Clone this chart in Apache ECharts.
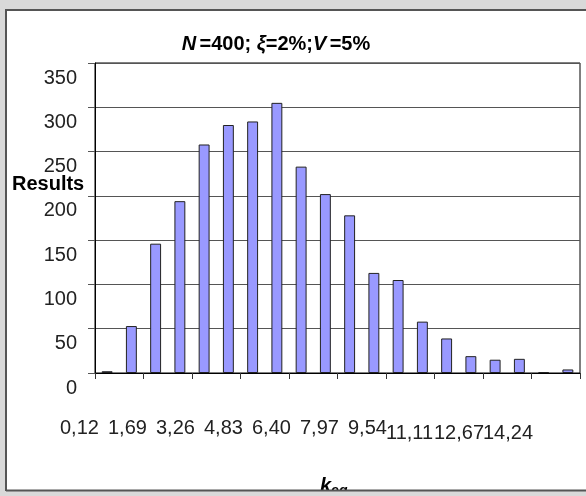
<!DOCTYPE html>
<html>
<head>
<meta charset="utf-8">
<script src="https://cdn.jsdelivr.net/npm/echarts@6/dist/echarts.min.js"></script>
<style>
html,body{margin:0;padding:0;background:#d9d9d9;}
#chart{width:586px;height:496px;}
</style>
</head>
<body>
<div id="chart"></div>
<script>
// ---- data ----
var categories = ['0,12','0,90','1,69','2,47','3,26','4,04','4,83','5,61','6,40','7,18',
                  '7,97','8,75','9,54','10,32','11,11','11,89','12,67','13,46','14,24','15,02'];
var results = [2, 53, 146, 194, 258, 280, 284, 305, 233, 202, 178, 113, 105, 58, 39, 19, 15, 16, 1, 4];
var yTicks = [0, 50, 100, 150, 200, 250, 300, 350];
var xTickLabels = ['0,12','1,69','3,26','4,83','6,40','7,97','9,54','11,11','12,67','14,24'];
// layout of the (misplaced) category labels as drawn in the reference
var xLabelLeft = [60, 108, 156, 204, 252, 300, 348, 386, 434, 483];
var xLabelMid  = [428, 428, 428, 428, 428, 428, 428, 433, 433, 433];

var chart = echarts.init(document.getElementById('chart'), null, {renderer: 'canvas'});
var FONT = '"Liberation Sans", Arial, sans-serif';

var graphics = [
  {type: 'rect', z: -10, shape: {x: 6, y: 10, width: 620, height: 481},
   style: {fill: '#ffffff', stroke: '#555555', lineWidth: 2}},
  {type: 'text', x: 276, y: 44, z: 10,
   style: {text: '{i|N} {b|=400; }{i|\u03BE}{b|=2%;}{i|V} {b|=5%}',
           textAlign: 'center', textVerticalAlign: 'middle',
           rich: {
             i: {fontFamily: FONT, fontSize: 20, fontWeight: 'bold', fontStyle: 'italic', fill: '#000'},
             b: {fontFamily: FONT, fontSize: 20, fontWeight: 'bold', fill: '#000'}
           }}},
  {type: 'text', x: 12, y: 184, z: 10,
   style: {text: 'Results', fontFamily: FONT, fontSize: 20, fontWeight: 'bold', fill: '#000',
           textAlign: 'left', textVerticalAlign: 'middle'}},
  {type: 'text', x: 320, y: 486, z: 10,
   style: {text: '{k|k}{s|eq}', textAlign: 'left', textVerticalAlign: 'middle',
           rich: {
             k: {fontFamily: FONT, fontSize: 20, fontWeight: 'bold', fontStyle: 'italic', fill: '#000'},
             s: {fontFamily: FONT, fontSize: 14, fontWeight: 'bold', fontStyle: 'italic', fill: '#000', padding: [10, 0, 0, 0]}
           }}},
  {type: 'rect', z: 50, shape: {x: 0, y: 491, width: 600, height: 10},
   style: {fill: '#d9d9d9'}},
  {type: 'line', z: 51, shape: {x1: 6, y1: 490.5, x2: 600, y2: 490.5},
   style: {stroke: '#555555', lineWidth: 2}}
];
xTickLabels.forEach(function (t, i) {
  graphics.push({type: 'text', x: xLabelLeft[i], y: xLabelMid[i], z: 10,
    style: {text: t, fontFamily: FONT, fontSize: 20, fill: '#222',
            textAlign: 'left', textVerticalAlign: 'middle'}});
});

chart.setOption({
  animation: false,
  backgroundColor: 'transparent',
  grid: {left: 95, top: 63, right: 6, bottom: 123, show: true,
         borderColor: '#000', borderWidth: 1, backgroundColor: 'transparent'},
  xAxis: {
    type: 'category', data: categories, boundaryGap: true,
    axisLine: {lineStyle: {color: '#000', width: 1}},
    axisTick: {show: true, length: 6, lineStyle: {color: '#333'}},
    axisLabel: {show: false},
    splitLine: {show: false}
  },
  yAxis: {
    type: 'value', min: yTicks[0], max: yTicks[yTicks.length - 1], interval: 50,
    axisLine: {show: true, lineStyle: {color: '#000', width: 1}},
    axisTick: {show: true, length: 7, lineStyle: {color: '#555'}},
    axisLabel: {margin: 18, verticalAlign: 'middle',
                formatter: function (v) { return '{a|' + v + '}'; },
                rich: {a: {fontFamily: FONT, fontSize: 20, color: '#222', padding: [30, 0, 0, 0]}}},
    splitLine: {show: true, lineStyle: {color: '#555', width: 1}}
  },
  series: [{
    type: 'bar', data: results, barWidth: '45%',
    itemStyle: {color: '#9999ff', borderColor: '#222', borderWidth: 1}
  }],
  graphic: graphics
});
</script>
</body>
</html>
